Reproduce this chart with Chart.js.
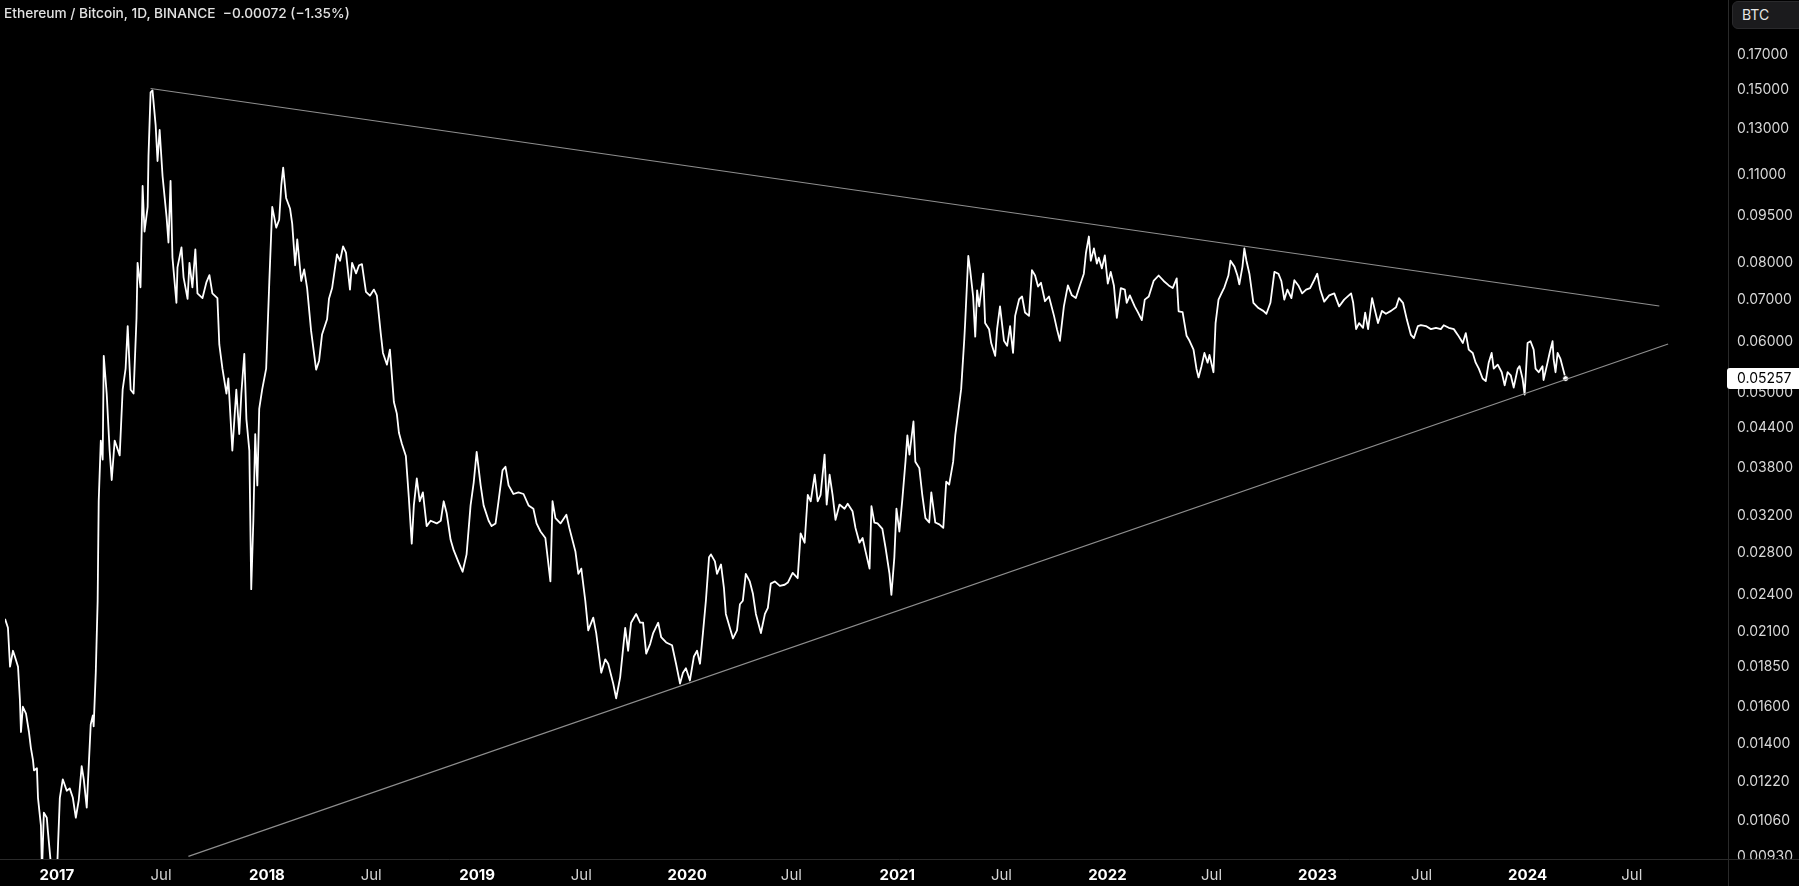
<!DOCTYPE html>
<html><head><meta charset="utf-8">
<script src="https://cdn.jsdelivr.net/npm/chart.js@4.4.1/dist/chart.umd.min.js"></script>
<style>
html,body{margin:0;padding:0;background:#000;overflow:hidden;}
#wrap{position:relative;width:1799px;height:886px;background:#000;}
canvas{display:block;}
#title{position:absolute;left:4px;top:5px;font:500 13.7px Inter,'Noto Sans',sans-serif;color:#e2e2e2;white-space:pre;}
#btc{position:absolute;left:1732px;top:1px;width:72px;height:28px;box-sizing:border-box;border-radius:6px;background:#1b1b1d;border:1px solid #2a2a2c;color:#e6e6e6;font:14px Inter,sans-serif;line-height:26px;padding-left:9px;}
</style></head>
<body><div id="wrap"><canvas id="c" width="1799" height="886"></canvas><div id="title">Ethereum / Bitcoin, 1D, BINANCE  −0.00072 (−1.35%)</div><div id="btc">BTC</div></div>
<script>
// time as decimal years, price in BTC
const years = [
2016.753,2016.767,2016.777,2016.791,2016.800,2016.815,2016.824,2016.829,2016.838,2016.853,2016.867,2016.876,2016.886,2016.891,2016.905,2016.910,2016.924,2016.929,2016.938,2016.952,2016.957,2016.976,
2017.000,2017.014,2017.028,2017.047,2017.061,2017.076,2017.090,2017.104,2017.118,2017.128,2017.142,2017.161,2017.171,2017.175,2017.185,2017.194,2017.199,2017.209,2017.218,2017.223,2017.237,2017.251,2017.261,2017.275,2017.299,2017.313,2017.327,2017.337,2017.351,2017.365,2017.379,2017.384,2017.398,2017.408,2017.417,2017.432,2017.436,2017.446,2017.455,2017.470,2017.479,2017.489,2017.503,2017.522,2017.531,2017.541,2017.550,2017.569,2017.574,2017.593,2017.603,2017.622,2017.631,2017.645,2017.659,2017.669,2017.693,2017.712,2017.726,2017.740,2017.764,2017.773,2017.788,2017.807,2017.816,2017.835,2017.854,2017.868,2017.878,2017.892,2017.902,2017.916,2017.925,2017.935,2017.944,2017.954,2017.963,2017.977,2017.996,
2018.011,2018.025,2018.044,2018.058,2018.068,2018.077,2018.091,2018.110,2018.120,2018.134,2018.144,2018.163,2018.177,2018.191,2018.210,2018.234,2018.248,2018.262,2018.286,2018.295,2018.310,2018.333,2018.348,2018.362,2018.376,2018.395,2018.405,2018.424,2018.438,2018.452,2018.471,2018.490,2018.509,2018.523,2018.542,2018.552,2018.571,2018.585,2018.604,2018.618,2018.628,2018.642,2018.661,2018.675,2018.689,2018.699,2018.713,2018.727,2018.742,2018.760,2018.779,2018.808,2018.827,2018.841,2018.855,2018.874,2018.889,2018.912,2018.931,2018.950,2018.969,2018.984,2018.998,
2019.017,2019.031,2019.055,2019.069,2019.088,2019.102,2019.121,2019.135,2019.150,2019.173,2019.197,2019.221,2019.245,2019.268,2019.283,2019.302,2019.325,2019.349,2019.359,2019.373,2019.397,2019.425,2019.439,2019.468,2019.482,2019.496,2019.515,2019.529,2019.553,2019.567,2019.591,2019.610,2019.624,2019.648,2019.662,2019.681,2019.705,2019.719,2019.733,2019.757,2019.776,2019.790,2019.805,2019.824,2019.838,2019.862,2019.876,2019.900,2019.928,2019.947,2019.966,2019.980,2019.994,
2020.013,2020.032,2020.047,2020.061,2020.075,2020.089,2020.104,2020.113,2020.132,2020.142,2020.161,2020.175,2020.184,2020.203,2020.218,2020.237,2020.251,2020.265,2020.279,2020.298,2020.313,2020.327,2020.351,2020.370,2020.384,2020.398,2020.417,2020.441,2020.464,2020.479,2020.502,2020.526,2020.540,2020.559,2020.574,2020.588,2020.607,2020.621,2020.635,2020.654,2020.664,2020.678,2020.692,2020.706,2020.725,2020.749,2020.764,2020.787,2020.801,2020.820,2020.835,2020.849,2020.868,2020.877,2020.891,2020.906,2020.929,2020.944,2020.963,2020.972,2020.986,2020.996,
2021.010,2021.024,2021.039,2021.048,2021.058,2021.077,2021.086,2021.105,2021.119,2021.134,2021.152,2021.162,2021.181,2021.200,2021.219,2021.233,2021.247,2021.266,2021.276,2021.290,2021.304,2021.319,2021.323,2021.338,2021.347,2021.361,2021.371,2021.380,2021.390,2021.409,2021.418,2021.437,2021.447,2021.466,2021.475,2021.489,2021.508,2021.523,2021.537,2021.551,2021.561,2021.580,2021.594,2021.608,2021.627,2021.641,2021.656,2021.670,2021.684,2021.703,2021.722,2021.746,2021.760,2021.774,2021.793,2021.812,2021.831,2021.850,2021.869,2021.888,2021.898,2021.912,2021.921,2021.936,2021.950,2021.959,2021.974,2021.988,
2022.002,2022.016,2022.031,2022.045,2022.064,2022.083,2022.092,2022.107,2022.130,2022.145,2022.164,2022.178,2022.197,2022.220,2022.244,2022.268,2022.292,2022.311,2022.330,2022.339,2022.358,2022.377,2022.391,2022.410,2022.424,2022.434,2022.448,2022.462,2022.477,2022.486,2022.505,2022.515,2022.529,2022.543,2022.557,2022.576,2022.586,2022.605,2022.619,2022.628,2022.643,2022.652,2022.662,2022.676,2022.695,2022.719,2022.742,2022.757,2022.776,2022.795,2022.814,2022.828,2022.842,2022.857,2022.876,2022.890,2022.909,2022.927,2022.946,2022.965,2022.984,2022.999,
2023.013,2023.032,2023.056,2023.080,2023.103,2023.127,2023.160,2023.170,2023.184,2023.198,2023.217,2023.227,2023.241,2023.260,2023.269,2023.288,2023.307,2023.326,2023.350,2023.374,2023.388,2023.407,2023.426,2023.445,2023.459,2023.478,2023.492,2023.516,2023.540,2023.564,2023.587,2023.601,2023.625,2023.649,2023.668,2023.692,2023.706,2023.720,2023.739,2023.753,2023.768,2023.786,2023.801,2023.815,2023.829,2023.839,2023.858,2023.877,2023.891,2023.905,2023.920,2023.934,2023.953,2023.962,2023.976,2023.986,
2024.000,2024.014,2024.029,2024.038,2024.053,2024.071,2024.076,2024.095,2024.105,2024.119,2024.124,2024.133,2024.143,2024.157,2024.181
];
const prices = [
0.0220,0.0213,0.0185,0.0196,0.0192,0.0185,0.0164,0.0146,0.0160,0.0156,0.0146,0.0138,0.0132,0.0127,0.0128,0.0115,0.0104,0.0088,0.0109,0.0107,0.0102,0.0087,
0.0087,0.0115,0.0123,0.0118,0.0119,0.0115,0.0107,0.0114,0.0129,0.0123,0.0111,0.0150,0.0155,0.0149,0.0181,0.0235,0.0337,0.0420,0.0392,0.0571,0.0498,0.0405,0.0364,0.0420,0.0398,0.0505,0.0545,0.0636,0.0505,0.0498,0.0655,0.0800,0.0732,0.1057,0.0896,0.0980,0.1178,0.1484,0.1495,0.1318,0.1157,0.1295,0.1095,0.0945,0.0861,0.1077,0.0816,0.0692,0.0787,0.0846,0.0759,0.0702,0.0800,0.0732,0.0840,0.0716,0.0704,0.0746,0.0765,0.0716,0.0704,0.0595,0.0545,0.0498,0.0526,0.0405,0.0505,0.0430,0.0498,0.0575,0.0454,0.0405,0.0245,0.0314,0.0430,0.0357,0.0471,0.0505,0.0545,
0.0746,0.0980,0.0909,0.0935,0.1059,0.1130,0.1012,0.0973,0.0922,0.0793,0.0871,0.0749,0.0781,0.0730,0.0625,0.0543,0.0561,0.0617,0.0652,0.0702,0.0730,0.0825,0.0806,0.0849,0.0830,0.0726,0.0800,0.0770,0.0793,0.0796,0.0720,0.0710,0.0726,0.0710,0.0617,0.0577,0.0553,0.0584,0.0483,0.0463,0.0432,0.0415,0.0397,0.0342,0.0289,0.0332,0.0366,0.0337,0.0348,0.0308,0.0314,0.0311,0.0314,0.0337,0.0323,0.0293,0.0282,0.0270,0.0261,0.0278,0.0332,0.0361,0.0403,
0.0357,0.0332,0.0314,0.0308,0.0311,0.0337,0.0377,0.0382,0.0357,0.0346,0.0348,0.0346,0.0332,0.0328,0.0311,0.0302,0.0295,0.0252,0.0337,0.0317,0.0311,0.0321,0.0306,0.0281,0.0259,0.0264,0.0235,0.0211,0.0221,0.0209,0.0181,0.0190,0.0187,0.0174,0.0165,0.0178,0.0213,0.0196,0.0217,0.0224,0.0217,0.0217,0.0194,0.0201,0.0209,0.0217,0.0206,0.0202,0.0200,0.0187,0.0174,0.0181,0.0184,
0.0176,0.0192,0.0196,0.0187,0.0209,0.0235,0.0275,0.0278,0.0271,0.0259,0.0268,0.0246,0.0224,0.0213,0.0205,0.0211,0.0232,0.0235,0.0259,0.0252,0.0241,0.0224,0.0209,0.0224,0.0229,0.0250,0.0252,0.0248,0.0249,0.0251,0.0260,0.0255,0.0300,0.0290,0.0345,0.0337,0.0371,0.0337,0.0345,0.0399,0.0333,0.0371,0.0345,0.0315,0.0333,0.0328,0.0334,0.0325,0.0306,0.0290,0.0295,0.0281,0.0264,0.0331,0.0312,0.0311,0.0305,0.0285,0.0259,0.0240,0.0275,0.0328,
0.0302,0.0339,0.0389,0.0428,0.0399,0.0450,0.0389,0.0380,0.0345,0.0317,0.0312,0.0348,0.0312,0.0310,0.0306,0.0362,0.0358,0.0389,0.0428,0.0465,0.0506,0.0607,0.0643,0.0820,0.0779,0.0708,0.0612,0.0724,0.0683,0.0769,0.0643,0.0629,0.0598,0.0571,0.0629,0.0683,0.0603,0.0592,0.0636,0.0577,0.0660,0.0701,0.0708,0.0668,0.0660,0.0779,0.0764,0.0734,0.0744,0.0696,0.0708,0.0660,0.0629,0.0603,0.0683,0.0737,0.0711,0.0704,0.0737,0.0769,0.0829,0.0880,0.0806,0.0843,0.0798,0.0815,0.0784,0.0822,
0.0742,0.0774,0.0737,0.0655,0.0730,0.0726,0.0692,0.0711,0.0683,0.0669,0.0650,0.0700,0.0708,0.0749,0.0764,0.0749,0.0737,0.0730,0.0756,0.0671,0.0669,0.0614,0.0603,0.0584,0.0545,0.0528,0.0550,0.0577,0.0557,0.0573,0.0538,0.0643,0.0700,0.0716,0.0732,0.0764,0.0806,0.0789,0.0764,0.0740,0.0789,0.0843,0.0806,0.0769,0.0692,0.0679,0.0672,0.0665,0.0692,0.0774,0.0769,0.0749,0.0700,0.0726,0.0704,0.0751,0.0737,0.0716,0.0726,0.0730,0.0751,0.0769,
0.0726,0.0695,0.0711,0.0716,0.0683,0.0700,0.0716,0.0692,0.0629,0.0643,0.0632,0.0668,0.0629,0.0704,0.0683,0.0643,0.0672,0.0665,0.0672,0.0681,0.0704,0.0692,0.0650,0.0616,0.0609,0.0636,0.0638,0.0636,0.0629,0.0632,0.0629,0.0638,0.0632,0.0629,0.0616,0.0598,0.0620,0.0584,0.0577,0.0557,0.0545,0.0526,0.0521,0.0557,0.0577,0.0545,0.0553,0.0538,0.0513,0.0538,0.0532,0.0509,0.0545,0.0550,0.0526,0.0496,
0.0598,0.0602,0.0584,0.0545,0.0538,0.0550,0.0523,0.0557,0.0577,0.0602,0.0564,0.0538,0.0577,0.0564,0.05257
];
// drawn trend lines (start / end)
const upperTrendYears = [2017.446, 2024.627];
const upperTrendPrices = [0.1505, 0.0684];
const lowerTrendYears = [2017.626, 2024.669];
const lowerTrendPrices = [0.0093, 0.0596];
// axis ticks
const priceTicks = [0.17,0.15,0.13,0.11,0.095,0.08,0.07,0.06,0.05,0.044,0.038,0.032,0.028,0.024,0.021,0.0185,0.016,0.014,0.0122,0.0106,0.0093];
const tickYears = [2017,2018,2019,2020,2021,2022,2023,2024];
const midYearLabel = 'Jul';
const lastPriceLabel = '0.05257';

const X_MIN = 2016.753, X_MAX = 2024.954;
const Y_MIN = 0.009213, Y_MAX = 0.2037;
const FONT = 'Inter, "Noto Sans", sans-serif';

const xTicks = [], xLabels = [];
tickYears.forEach(y => { xTicks.push(y); xLabels.push(String(y)); xTicks.push(y + 181/365); xLabels.push(midYearLabel); });

const toPts = (xs, ys) => xs.map((x, i) => ({x, y: ys[i]}));
const series = toPts(years, prices);
const lastIdx = prices.length - 1;

const overlay = {
  id: 'overlay',
  afterDraw(chart) {
    const c = chart.ctx, ys = chart.scales.y, ca = chart.chartArea;
    c.save();
    // labels do not spill below the plot region on the price axis
    c.fillStyle = '#000';
    c.fillRect(ca.right, ca.bottom, chart.width - ca.right, chart.height - ca.bottom);
    c.strokeStyle = '#2a2a2a'; c.lineWidth = 1;
    c.beginPath(); c.moveTo(0, ca.bottom + 0.5); c.lineTo(chart.width, ca.bottom + 0.5); c.stroke();
    c.beginPath(); c.moveTo(ca.right + 0.5, 0); c.lineTo(ca.right + 0.5, chart.height); c.stroke();
    // last price label
    const py = ys.getPixelForValue(prices[lastIdx]);
    c.fillStyle = '#ffffff';
    c.beginPath(); c.roundRect(ca.right - 1, py - 10.5, chart.width - ca.right + 4, 21, 3); c.fill();
    c.fillStyle = '#000';
    c.font = '14px ' + FONT;
    c.textBaseline = 'middle'; c.textAlign = 'left';
    c.fillText(lastPriceLabel, ca.right + 9, py + 0.5);
    c.restore();
  }
};

new Chart(document.getElementById('c'), {
  type: 'line',
  data: { datasets: [
    { data: toPts(upperTrendYears, upperTrendPrices), borderColor: '#8e8e8e', borderWidth: 1.2, pointRadius: 0 },
    { data: toPts(lowerTrendYears, lowerTrendPrices), borderColor: '#8e8e8e', borderWidth: 1.2, pointRadius: 0 },
    { data: series, borderColor: '#ffffff', borderWidth: 1.8, tension: 0, borderJoinStyle: 'round',
      pointRadius: ctx => ctx.dataIndex === lastIdx ? 3 : 0,
      pointBackgroundColor: '#ffffff', pointBorderColor: '#000000', pointBorderWidth: 1 }
  ]},
  options: {
    responsive: false, animation: false,
    layout: { padding: 0 },
    plugins: { legend: { display: false }, tooltip: { enabled: false }, title: { display: false } },
    scales: {
      x: {
        type: 'linear', min: X_MIN, max: X_MAX,
        grid: { display: false, drawTicks: false },
        border: { display: false },
        afterBuildTicks: s => { s.ticks = xTicks.map(v => ({ value: v })); },
        afterFit: s => { s.height = 27; s.paddingLeft = 0; s.paddingRight = 0; },
        ticks: {
          autoSkip: false, maxRotation: 0, minRotation: 0, padding: 7,
          color: ctx => (xLabels[ctx.index] === midYearLabel ? '#d4d4d4' : '#ffffff'),
          font: ctx => ({ family: FONT, size: 15, weight: xLabels[ctx.index] === midYearLabel ? 'normal' : 'bold' }),
          callback: (v, i) => xLabels[i]
        }
      },
      y: {
        type: 'logarithmic', position: 'right', min: Y_MIN, max: Y_MAX,
        grid: { display: false, drawTicks: false },
        border: { display: false },
        afterBuildTicks: s => { s.ticks = priceTicks.map(v => ({ value: v })); },
        afterFit: s => { s.width = 71; s.paddingTop = 0; s.paddingBottom = 0; },
        ticks: {
          autoSkip: false, padding: 9, color: '#d8d8d8',
          font: { family: FONT, size: 14 },
          callback: v => Number(v).toFixed(5)
        }
      }
    }
  },
  plugins: [overlay]
});
</script>
</body></html>
